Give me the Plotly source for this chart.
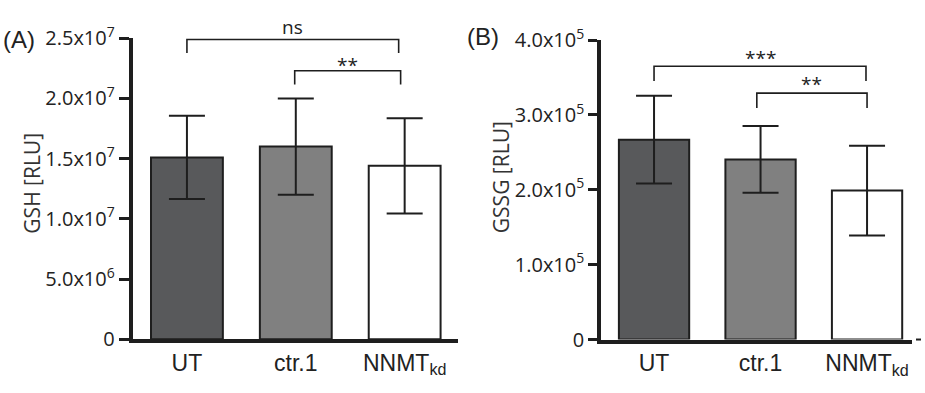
import plotly.graph_objects as go

# ---------------- data ----------------
categories = ["UT", "ctr.1", "NNMT<sub>kd</sub>"]
gsh_mean = [1.51e7, 1.60e7, 1.44e7]
gsh_err = [0.346e7, 0.400e7, 0.395e7]
gssg_mean = [2.67e5, 2.405e5, 1.99e5]
gssg_err = [0.586e5, 0.446e5, 0.599e5]
bar_colors = ["#58595b", "#808080", "#ffffff"]

gsh_tickvals = [0, 5e6, 1e7, 1.5e7, 2e7, 2.5e7]
gsh_ticktext = ["0", "5.0x10<sup>6</sup>", "1.0x10<sup>7</sup>",
                "1.5x10<sup>7</sup>", "2.0x10<sup>7</sup>", "2.5x10<sup>7</sup>"]
gssg_tickvals = [0, 1e5, 2e5, 3e5, 4e5]
gssg_ticktext = ["0", "1.0x10<sup>5</sup>", "2.0x10<sup>5</sup>",
                 "3.0x10<sup>5</sup>", "4.0x10<sup>5</sup>"]

# significance brackets: (x start, x end, bar level, leg end, label, label level)
gsh_brackets = [(0.0, 1.945, 2.49e7, 2.377e7, "ns", 2.59e7),
                (0.99, 1.963, 2.23e7, 2.115e7, "**", 2.28e7)]
gssg_brackets = [(0.0, 1.99, 3.65e5, 3.455e5, "***", 3.765e5),
                 (0.965, 2.0, 3.291e5, 3.093e5, "**", 3.415e5)]

# ---------------- layout geometry ----------------
W, H = 925, 393
A_x = (132.5, 458.0); A_xr = [-0.5, 2.49]
A_y = (24.0, 349.0);  A_yr = [0, 2.5e7]
B_x = (601.0, 912.0); B_xr = [-0.498, 2.422]
B_y = (26.0, 349.3);  B_yr = [0, 4e5]

def xdom(px):
    return [px[0] / W, px[1] / W]

def ydom(py):
    return [(H - py[1]) / H, (H - py[0]) / H]

def ext_range(dom, rng):
    d0, d1 = dom
    r0, r1 = rng
    k = (r1 - r0) / (d1 - d0)
    return [r0 - d0 * k, r1 + (1 - d1) * k]

INK = "#1e1e1e"
TICKFONT = dict(family="Open Sans", size=20, color="#222222")
XFONT = dict(family="Liberation Sans", size=23, color="#222222")

fig = go.Figure()

for (means, errs, xa, ya) in [(gsh_mean, gsh_err, "x", "y"), (gssg_mean, gssg_err, "x2", "y2")]:
    fig.add_trace(go.Bar(
        x=categories, y=means, xaxis=xa, yaxis=ya,
        marker=dict(color=bar_colors, line=dict(color=INK, width=2)),
        error_y=dict(type="data", array=errs, visible=True, color=INK, thickness=2, width=18),
        showlegend=False, hoverinfo="skip",
    ))

# empty traces for overlay (bracket) subplots
fig.add_trace(go.Scatter(x=[], y=[], xaxis="x3", yaxis="y3", showlegend=False))
fig.add_trace(go.Scatter(x=[], y=[], xaxis="x4", yaxis="y4", showlegend=False))

yax_common = dict(showline=True, linewidth=3.5, linecolor=INK, ticks="outside",
                  tickwidth=2.5, tickcolor=INK, tickfont=TICKFONT, showgrid=False,
                  zeroline=False, fixedrange=True)
xax_common = dict(showline=True, linewidth=3.5, linecolor=INK, ticks="", tickfont=XFONT,
                  showgrid=False, zeroline=False, type="category", fixedrange=True)

fig.update_layout(
    width=W, height=H, margin=dict(l=0, r=0, t=0, b=0),
    paper_bgcolor="white", plot_bgcolor="rgba(0,0,0,0)",
    bargap=0.34,
    xaxis=dict(domain=xdom(A_x), range=A_xr, anchor="y", **xax_common),
    yaxis=dict(domain=ydom(A_y), range=A_yr, anchor="x", tickvals=gsh_tickvals,
               ticktext=gsh_ticktext, ticklen=10, **yax_common),
    xaxis2=dict(domain=xdom(B_x), range=B_xr, anchor="y2", **xax_common),
    yaxis2=dict(domain=ydom(B_y), range=B_yr, anchor="x2", tickvals=gssg_tickvals,
                ticktext=gssg_ticktext, ticklen=9, **yax_common),
    xaxis3=dict(domain=xdom(A_x), range=A_xr, anchor="y3", visible=False, fixedrange=True),
    yaxis3=dict(domain=[0, 1], range=ext_range(ydom(A_y), A_yr), anchor="x3",
                visible=False, fixedrange=True),
    xaxis4=dict(domain=xdom(B_x), range=B_xr, anchor="y4", visible=False, fixedrange=True),
    yaxis4=dict(domain=[0, 1], range=ext_range(ydom(B_y), B_yr), anchor="x4",
                visible=False, fixedrange=True),
)

shapes = []
annotations = []
for brackets, xr, yr in [(gsh_brackets, "x3", "y3"), (gssg_brackets, "x4", "y4")]:
    for (x0, x1, lvl, leg, lab, laby) in brackets:
        shapes.append(dict(type="path", xref=xr, yref=yr,
                           path=f"M {x0} {leg} L {x0} {lvl} L {x1} {lvl} L {x1} {leg}",
                           line=dict(color=INK, width=1.6)))
        annotations.append(dict(x=(x0 + x1) / 2, y=laby, xref=xr, yref=yr, text=lab,
                                showarrow=False, xanchor="center", yanchor="middle",
                                font=dict(family="Open Sans", size=19, color="#222222")))

# small dash at the end of panel B x-axis
shapes.append(dict(type="line", xref="paper", yref="paper",
                   x0=916 / W, x1=921 / W, y0=1 - 349.3 / H, y1=1 - 349.3 / H,
                   line=dict(color=INK, width=2)))

# axis titles and panel labels
annotations += [
    dict(x=32 / W, y=1 - 181 / H, xref="paper", yref="paper", text="GSH [RLU]",
         textangle=-90, showarrow=False, xanchor="center", yanchor="middle",
         font=dict(family="Open Sans", size=21, color="#333333")),
    dict(x=501 / W, y=1 - 174 / H, xref="paper", yref="paper", text="GSSG [RLU]",
         textangle=-90, showarrow=False, xanchor="center", yanchor="middle",
         font=dict(family="Open Sans", size=21, color="#333333")),
    dict(x=19 / W, y=1 - 25.5 / H, xref="paper", yref="paper", text="(A)",
         showarrow=False, xanchor="center", yanchor="middle",
         font=dict(family="Liberation Sans", size=24, color="#222222")),
    dict(x=483 / W, y=1 - 22.5 / H, xref="paper", yref="paper", text="(B)",
         showarrow=False, xanchor="center", yanchor="middle",
         font=dict(family="Liberation Sans", size=24, color="#222222")),
]

fig.update_layout(shapes=shapes, annotations=annotations)
fig.write_html("out.html", config={"displayModeBar": False},
               post_script="document.body.style.margin='0px';")
